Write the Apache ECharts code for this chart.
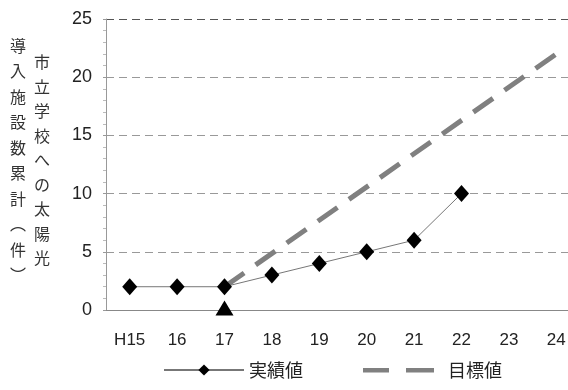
<!DOCTYPE html>
<html>
<head>
<meta charset="utf-8">
<script src="https://cdn.jsdelivr.net/npm/echarts@6/dist/echarts.min.js"></script>
<style>
  html, body { margin: 0; padding: 0; background: #fff; overflow: hidden; }
  #chart { width: 580px; height: 390px; }
</style>
</head>
<body>
<div id="chart"></div>
<script>
// Fiscal years (Heisei era)
const years = ['H15', '16', '17', '18', '19', '20', '21', '22', '23', '24'];
// Cumulative installations achieved so far
const actual = [2, 2, 2, 3, 4, 5, 6, 10, null, null];
// Target line: from H17 start value to the H24 goal
const target = [null, null, 2, null, null, null, null, null, null, 22];
// Start-point marker on the axis (H17)
const startMark = [null, null, 0, null, null, null, null, null, null, null];

const yTicks = [0, 5, 10, 15, 20, 25];
const legendNames = ['実績値', '目標値'];
const axisTitleRight = '市立学校への太陽光';
const axisTitleLeft = '導入施設数累計︵件︶';

const numFont = "'Liberation Sans', Arial, 'Noto Sans CJK JP', sans-serif";
const jpFont = "'Noto Sans CJK JP', sans-serif";

const chart = echarts.init(document.getElementById('chart'));

const vertical = s => s.split('').join('\n');

// Two thick dashes for the target legend entry (degenerate corner points keep the box size)
const dashIcon = 'path://M0,0L0.01,0ZM0,5h26v4.5h-26zM43,5h28v4.5h-28zM80,14L79.99,14Z';

chart.setOption({
  backgroundColor: '#ffffff',
  animation: false,
  // plot area runs slightly past the visible window on the right
  grid: { left: 106, top: 19, bottom: 80, right: 0 },
  legend: {
    data: [
      { name: legendNames[0] },
      { name: legendNames[1], icon: dashIcon, itemStyle: { color: '#808080' } }
    ],
    bottom: 6,
    left: 158,
    itemWidth: 80,
    itemHeight: 14,
    itemGap: 60,
    textStyle: { fontFamily: jpFont, fontSize: 18, color: '#222' }
  },
  xAxis: {
    type: 'category',
    data: years,
    boundaryGap: true,
    axisLine: { lineStyle: { color: '#888', width: 1 } },
    axisTick: { inside: true, length: 7, lineStyle: { color: '#888' } },
    axisLabel: { fontFamily: numFont, fontSize: 17, color: '#222', margin: 22 }
  },
  yAxis: {
    type: 'value',
    min: yTicks[0],
    max: yTicks[yTicks.length - 1],
    interval: 5,
    axisLine: { show: true, lineStyle: { color: '#999', width: 1 } },
    axisTick: { show: true, length: 3, lineStyle: { color: '#999' } },
    minorTick: { show: true, splitNumber: 5, length: 3, lineStyle: { color: '#bbb' } },
    axisLabel: { fontFamily: numFont, fontSize: 18, color: '#222', margin: 14 },
    splitLine: {
      lineStyle: {
        type: [8, 5],
        color: ['#aaa', '#999', '#999', '#999', '#999', '#555']
      }
    }
  },
  graphic: [
    {
      type: 'text', left: 34, top: 50,
      style: {
        text: vertical(axisTitleRight), font: '16px ' + jpFont,
        lineHeight: 24.5, fill: '#333', align: 'center'
      }
    },
    {
      type: 'text', left: 10, top: 33,
      style: {
        text: vertical(axisTitleLeft), font: '16px ' + jpFont,
        lineHeight: 25.5, fill: '#333', align: 'center'
      }
    }
  ],
  series: [
    {
      name: legendNames[1],
      type: 'line',
      data: target,
      connectNulls: true,
      symbol: 'none',
      lineStyle: { color: '#808080', width: 5, type: [24, 14] },
      itemStyle: { color: '#808080' },
      z: 2
    },
    {
      name: legendNames[0],
      type: 'line',
      data: actual,
      symbol: 'diamond',
      symbolSize: [15, 17],
      lineStyle: { color: '#777', width: 1 },
      itemStyle: { color: '#000' },
      z: 3
    },
    {
      name: 'start',
      type: 'scatter',
      data: startMark,
      symbol: 'triangle',
      symbolSize: [18, 15],
      symbolOffset: [0, -2],
      itemStyle: { color: '#000', opacity: 1 },
      clip: false,
      z: 5
    }
  ]
});
</script>
</body>
</html>
